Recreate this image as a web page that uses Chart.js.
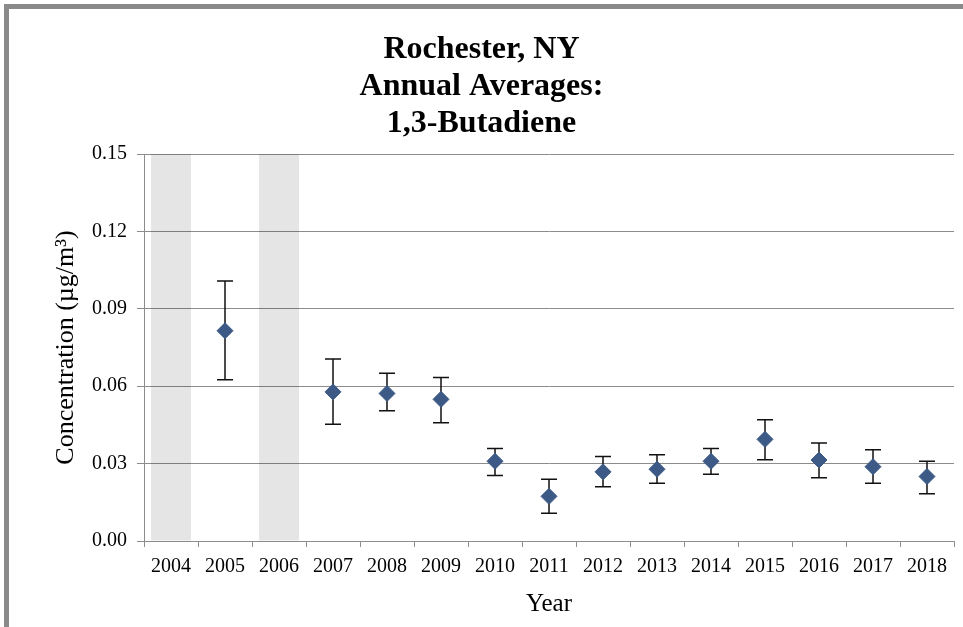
<!DOCTYPE html>
<html>
<head>
<meta charset="utf-8">
<script src="https://cdn.jsdelivr.net/npm/chart.js@4.4.1/dist/chart.umd.min.js"></script>
<style>
  html, body { margin: 0; padding: 0; background: #ffffff; width: 963px; height: 627px; overflow: hidden; }
  #frame { position: absolute; left: 4px; top: 4px; width: 959px; height: 623px;
           border-top: 5px solid #8a8a8a; border-left: 5px solid #8a8a8a; box-sizing: border-box; }
  #c { position: absolute; left: 9px; top: 9px; }
</style>
</head>
<body>
<div id="frame"></div>
<canvas id="c" width="954" height="618"></canvas>
<script>
const years = ['2004','2005','2006','2007','2008','2009','2010','2011','2012','2013','2014','2015','2016','2017','2018'];
const means = [null, 0.0815, null, 0.0578, 0.0572, 0.0549, 0.0309, 0.0173, 0.0268, 0.0278, 0.0309, 0.0394, 0.0314, 0.0288, 0.0250];
const upper = [null, 0.1008, null, 0.0705, 0.0650, 0.0634, 0.0359, 0.0239, 0.0328, 0.0334, 0.0359, 0.0470, 0.0380, 0.0354, 0.0309];
const lower = [null, 0.0625, null, 0.0453, 0.0505, 0.0458, 0.0254, 0.0108, 0.0210, 0.0224, 0.0259, 0.0315, 0.0245, 0.0224, 0.0183];
const noDataBands = [0.15, null, 0.15, null, null, null, null, null, null, null, null, null, null, null, null];
const yTicks = [0, 0.03, 0.06, 0.09, 0.12, 0.15];
const titleLines = ['Rochester, NY', 'Annual Averages:', '1,3-Butadiene'];

const FONT = "'Liberation Serif', 'Times New Roman', serif";

const errorBars = {
  id: 'errorBars',
  beforeDatasetsDraw(chart) {
    const { ctx, scales: { x, y } } = chart;
    ctx.save();
    ctx.strokeStyle = '#111111';
    ctx.lineWidth = 1.5;
    const cap = 8;
    years.forEach((yr, i) => {
      if (means[i] == null) return;
      const px = x.getPixelForValue(i);
      const pt = y.getPixelForValue(upper[i]);
      const pb = y.getPixelForValue(lower[i]);
      ctx.beginPath();
      ctx.moveTo(px, pt); ctx.lineTo(px, pb);
      ctx.moveTo(px - cap, pt); ctx.lineTo(px + cap, pt);
      ctx.moveTo(px - cap, pb); ctx.lineTo(px + cap, pb);
      ctx.stroke();
    });
    ctx.restore();
  }
};

new Chart(document.getElementById('c'), {
  type: 'bar',
  data: {
    labels: years,
    datasets: [
      {
        type: 'line',
        label: 'Annual Average',
        data: means,
        showLine: false,
        pointStyle: 'rectRot',
        pointRadius: 8,
        pointBackgroundColor: '#3d5a87',
        pointBorderColor: '#3d5a87',
        pointBorderWidth: 1,
        order: 0
      },
      {
        type: 'bar',
        label: 'No data',
        data: noDataBands,
        backgroundColor: 'rgba(0,0,0,0.1)',
        borderWidth: 0,
        barPercentage: 0.74,
        categoryPercentage: 1.0,
        order: 1
      }
    ]
  },
  options: {
    responsive: false,
    animation: false,
    devicePixelRatio: 1,
    layout: { padding: { left: 0, right: 9, top: 0, bottom: 0 } },
    plugins: {
      legend: { display: false },
      tooltip: { enabled: false },
      title: {
        display: true,
        text: titleLines,
        color: '#000000',
        font: { family: FONT, size: 32, weight: 'bold', lineHeight: '37px' },
        padding: { top: 22, bottom: 12 }
      }
    },
    scales: {
      x: {
        offset: true,
        grid: { display: true, drawOnChartArea: false, drawTicks: true, tickLength: 6, offset: true, color: '#8c8c8c' },
        border: { display: true, color: '#8c8c8c', width: 1 },
        ticks: { color: '#000000', font: { family: FONT, size: 20 }, padding: 8, maxRotation: 0, autoSkip: false },
        title: { display: true, text: 'Year', color: '#000000', font: { family: FONT, size: 25 }, padding: { top: 0, bottom: 8 } },
        afterFit(scale) { scale.height = 86; }
      },
      y: {
        min: 0,
        max: 0.15,
        afterBuildTicks(scale) { scale.ticks = yTicks.map(v => ({ value: v })); },
        grid: { color: '#8c8c8c', lineWidth: 1, drawTicks: true, tickLength: 7 },
        border: { display: true, color: '#8c8c8c', width: 1 },
        ticks: { color: '#000000', font: { family: FONT, size: 20 }, padding: 10, callback: v => Number(v).toFixed(2) },
        title: { display: true, text: 'Concentration (µg/m³)', color: '#000000', font: { family: FONT, size: 26 }, padding: { top: 42, bottom: 0 } },
        afterFit(scale) { scale.width = 135; }
      }
    }
  },
  plugins: [errorBars]
});
</script>
</body>
</html>
